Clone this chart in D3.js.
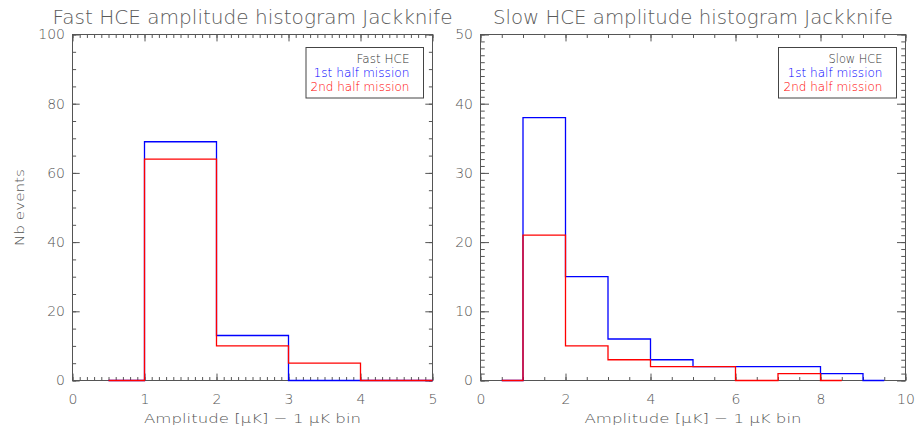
<!DOCTYPE html>
<html>
<head>
<meta charset="utf-8">
<script src="https://cdn.jsdelivr.net/npm/d3@7"></script>
<style>
  html, body { margin: 0; padding: 0; background: #fff; }
  svg { display: block; }
  text { font-family: "DejaVu Sans", sans-serif; font-weight: 200; }
</style>
</head>
<body>
<svg id="chart" width="916" height="434"></svg>
<script>
// ---- Data ----
// Fast HCE histogram (bin edges, then counts per bin)
const fastEdges = [0.5, 1, 2, 3, 4, 5];
const fastFirstHalf = [0, 69, 13, 0, 0];
const fastSecondHalf = [0, 64, 10, 5, 0];

// Slow HCE histogram
const slowFirstEdges = [0.5, 1, 2, 3, 4, 5, 6, 7, 8, 9, 9.5];
const slowFirstHalf = [0, 38, 15, 6, 3, 2, 2, 2, 1, 0];
const slowSecondEdges = [0.5, 1, 2, 3, 4, 5, 6, 7, 8, 8.5];
const slowSecondHalf = [0, 21, 5, 3, 2, 2, 0, 1, 0];

// Axes ticks
const fastXMajor = [0, 1, 2, 3, 4, 5];
const fastYMajor = [0, 20, 40, 60, 80, 100];
const slowXMajor = [0, 2, 4, 6, 8, 10];
const slowYMajor = [0, 10, 20, 30, 40, 50];

const titles = ["Fast HCE amplitude histogram Jackknife", "Slow HCE amplitude histogram Jackknife"];
const legendHeads = ["Fast HCE", "Slow HCE"];
const seriesNames = ["1st half mission", "2nd half mission"];
const xTitle = "Amplitude [\u03BCK] \u2212 1 \u03BCK bin";
const yTitle = "Nb events";

const svg = d3.select("#chart");
svg.append("rect").attr("width", 916).attr("height", 434).attr("fill", "#fff");

const AXIS = "#555";
const TXT = "#555";
const BLUE = "#0000ff";
const RED = "#ff0000";

function panel(cfg) {
  const x = d3.scaleLinear().domain(cfg.xDomain).range([cfg.left, cfg.right]);
  const y = d3.scaleLinear().domain(cfg.yDomain).range([cfg.bottom, cfg.top]);
  const w = cfg.right - cfg.left, h = cfg.bottom - cfg.top;
  const xMaj = 0.02 * h, xMin = xMaj / 2;
  const yMaj = 0.02 * w, yMin = yMaj / 2;
  const g = svg.append("g");

  function styleAxis(sel) {
    sel.select(".domain").remove();
    sel.selectAll("line").attr("stroke", AXIS).attr("stroke-width", 1);
    sel.selectAll("text").attr("fill", TXT).style("font-size", "14px")
      .style("font-family", "DejaVu Sans, sans-serif").style("font-weight", "200");
  }
  // bottom
  g.append("g").attr("transform", `translate(0,${cfg.bottom})`)
    .call(d3.axisBottom(x).tickValues(cfg.xMinor).tickFormat("").tickSize(-xMin)).call(styleAxis);
  g.append("g").attr("transform", `translate(0,${cfg.bottom})`)
    .call(d3.axisBottom(x).tickValues(cfg.xMajor).tickFormat(d3.format("d")).tickSize(-xMaj).tickPadding(14)).call(styleAxis);
  // top
  g.append("g").attr("transform", `translate(0,${cfg.top})`)
    .call(d3.axisTop(x).tickValues(cfg.xMinor).tickFormat("").tickSize(-xMin)).call(styleAxis);
  g.append("g").attr("transform", `translate(0,${cfg.top})`)
    .call(d3.axisTop(x).tickValues(cfg.xMajor).tickFormat("").tickSize(-xMaj)).call(styleAxis);
  // left
  g.append("g").attr("transform", `translate(${cfg.left},0)`)
    .call(d3.axisLeft(y).tickValues(cfg.yMinor).tickFormat("").tickSize(-yMin)).call(styleAxis);
  g.append("g").attr("transform", `translate(${cfg.left},0)`)
    .call(d3.axisLeft(y).tickValues(cfg.yMajor).tickFormat(d3.format("d")).tickSize(-yMaj).tickPadding(7.5)).call(styleAxis);
  // right
  g.append("g").attr("transform", `translate(${cfg.right},0)`)
    .call(d3.axisRight(y).tickValues(cfg.yMinor).tickFormat("").tickSize(-yMin)).call(styleAxis);
  g.append("g").attr("transform", `translate(${cfg.right},0)`)
    .call(d3.axisRight(y).tickValues(cfg.yMajor).tickFormat("").tickSize(-yMaj)).call(styleAxis);

  // frame
  g.append("rect").attr("x", cfg.left).attr("y", cfg.top).attr("width", w).attr("height", h)
    .attr("fill", "none").attr("stroke", AXIS).attr("stroke-width", 1);

  // histograms
  const line = d3.line().x(d => x(d[0])).y(d => y(d[1])).curve(d3.curveStepAfter);
  cfg.series.forEach(s => {
    const pts = s.edges.map((e, i) => [e, i < s.values.length ? s.values[i] : s.values[s.values.length - 1]]);
    g.append("path").attr("d", line(pts)).attr("fill", "none")
      .attr("stroke", s.color).attr("stroke-width", 1.3);
  });

  // title
  g.append("text").attr("x", (cfg.left + cfg.right) / 2).attr("y", 24)
    .attr("text-anchor", "middle").attr("fill", "#5a5a5a").style("font-size", "19px")
    .attr("textLength", 400).attr("lengthAdjust", "spacingAndGlyphs").text(cfg.title);
  // x title
  g.append("text").attr("x", (cfg.left + cfg.right) / 2).attr("y", 423)
    .attr("text-anchor", "middle").attr("fill", TXT).style("font-size", "13px")
    .attr("textLength", 217).attr("lengthAdjust", "spacingAndGlyphs").text(xTitle);

  // legend
  const lg = g.append("g");
  lg.append("rect").attr("x", cfg.right - 9 - cfg.legW).attr("y", 47.5)
    .attr("width", cfg.legW).attr("height", 50.5)
    .attr("fill", "#fff").attr("stroke", "#444").attr("stroke-width", 1);
  const tx = cfg.right - 23;
  const items = [
    {t: cfg.legHead, c: "#333", w: cfg.legTW[0]},
    {t: seriesNames[0], c: BLUE, w: cfg.legTW[1]},
    {t: seriesNames[1], c: RED, w: cfg.legTW[2]}
  ];
  items.forEach((it, i) => {
    lg.append("text").attr("x", tx).attr("y", 62.5 + i * 14).attr("text-anchor", "end")
      .attr("fill", it.c).style("font-size", "11.5px")
      .attr("textLength", it.w).attr("lengthAdjust", "spacingAndGlyphs").text(it.t);
  });
  return g;
}

panel({
  left: 72.5, right: 432.5, top: 34.5, bottom: 380.5,
  xDomain: [0, 5], yDomain: [0, 100],
  xMajor: fastXMajor, xMinor: d3.range(0, 51).map(d => d / 10),
  yMajor: fastYMajor, yMinor: d3.range(0, 101, 5),
  series: [
    {edges: fastEdges, values: fastFirstHalf, color: BLUE},
    {edges: fastEdges, values: fastSecondHalf, color: RED}
  ],
  title: titles[0], legHead: legendHeads[0], legW: 117.5, legTW: [53, 96, 99]
});

panel({
  left: 480.5, right: 905.5, top: 34.5, bottom: 380.5,
  xDomain: [0, 10], yDomain: [0, 50],
  xMajor: slowXMajor, xMinor: d3.range(0, 21).map(d => d / 2),
  yMajor: slowYMajor, yMinor: d3.range(0, 51, 1),
  series: [
    {edges: slowFirstEdges, values: slowFirstHalf, color: BLUE},
    {edges: slowSecondEdges, values: slowSecondHalf, color: RED}
  ],
  title: titles[1], legHead: legendHeads[1], legW: 118, legTW: [54, 95, 99]
});

// y title (left panel only)
svg.append("text").attr("transform", "translate(24,207.5) rotate(-90)")
  .attr("text-anchor", "middle").attr("fill", TXT).style("font-size", "13px")
  .attr("textLength", 77).attr("lengthAdjust", "spacingAndGlyphs").text(yTitle);
</script>
</body>
</html>
